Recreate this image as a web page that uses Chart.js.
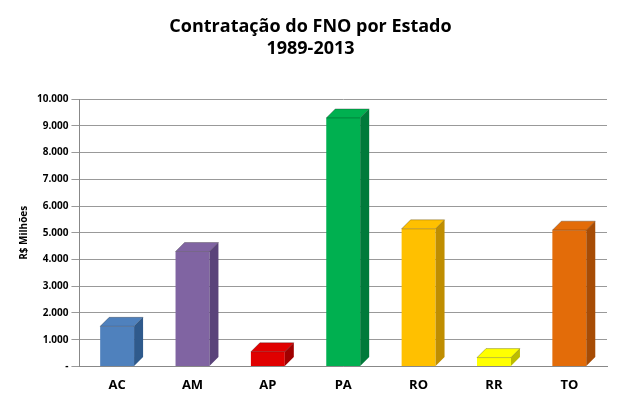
<!DOCTYPE html>
<html>
<head>
<meta charset="utf-8">
<script src="https://cdn.jsdelivr.net/npm/chart.js@4"></script>
<style>
  html, body { margin: 0; padding: 0; background: #fff; }
  #wrap { width: 621px; height: 418px; }
</style>
</head>
<body>
<div id="wrap"><canvas id="chartFno"></canvas></div>
<script>
const estados = ['AC', 'AM', 'AP', 'PA', 'RO', 'RR', 'TO']
const valores = [1500, 4300, 550, 9300, 5150, 330, 5100]
const cores = ['#4f81bd', '#8064a2', '#e00000', '#00b050', '#ffc000', '#ffff00', '#e36c09']
const coresEscuras = ['#2f5a8c', '#5a437a', '#a00000', '#007a3a', '#c08e00', '#bcbc00', '#a74c05']

// faces laterais e topo para imitar o 3D
const efeito3d = {
    id: 'efeito3d',
    afterDatasetsDraw(chart) {
        const ctx = chart.ctx
        const d = 9
        chart.getDatasetMeta(0).data.forEach((bar, i) => {
            const l = bar.x - bar.width / 2, r = bar.x + bar.width / 2
            const t = bar.y, b = bar.base
            ctx.save()
            ctx.fillStyle = coresEscuras[i]
            ctx.beginPath()
            ctx.moveTo(r, t); ctx.lineTo(r + d, t - d); ctx.lineTo(r + d, b - d); ctx.lineTo(r, b)
            ctx.closePath(); ctx.fill()
            ctx.fillStyle = cores[i]
            ctx.beginPath()
            ctx.moveTo(l, t); ctx.lineTo(l + d, t - d); ctx.lineTo(r + d, t - d); ctx.lineTo(r, t)
            ctx.closePath(); ctx.fill()
            ctx.strokeStyle = 'rgba(0,0,0,0.25)'
            ctx.stroke()
            ctx.restore()
        })
    }
}

new Chart(document.getElementById('chartFno'), {
    type: 'bar',
    data: {
        labels: estados,
        datasets: [{
            label: 'R$ Milhões',
            data: valores,
            backgroundColor: cores,
            barPercentage: 0.45,
            categoryPercentage: 1
        }]
    },
    options: {
        responsive: true,
        maintainAspectRatio: false,
        animation: false,
        layout: { padding: { left: 14, right: 14, top: 0, bottom: 22 } },
        plugins: {
            legend: { display: false },
            tooltip: { enabled: false },
            title: {
                display: true,
                text: ['Contratação do FNO por Estado', '1989-2013'],
                color: '#000',
                font: { family: 'Open Sans', size: 18, weight: 'bold' },
                padding: { top: 16, bottom: 40 }
            }
        },
        scales: {
            x: {
                grid: { display: false },
                border: { color: '#888' },
                ticks: { color: '#000', font: { family: 'Open Sans', size: 13, weight: 'bold' } }
            },
            y: {
                min: 0,
                max: 10000,
                ticks: {
                    stepSize: 1000,
                    color: '#000',
                    font: { family: 'Open Sans', size: 10, weight: 'bold' },
                    callback: v => v === 0 ? '-' : v.toLocaleString('pt-BR')
                },
                grid: { color: '#999' },
                border: { color: '#888' },
                title: {
                    display: true,
                    text: 'R$ Milhões',
                    color: '#000',
                    font: { family: 'Open Sans', size: 10, weight: 'bold' }
                }
            }
        }
    },
    plugins: [efeito3d]
})
</script>
</body>
</html>
